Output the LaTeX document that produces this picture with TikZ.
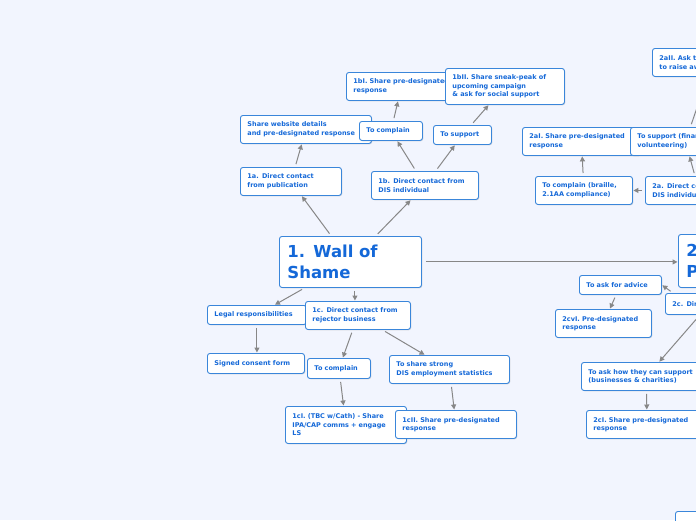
\documentclass[tikz,border=0pt]{standalone}
\usepackage{fontspec}
\setmainfont{DejaVu Sans}
\usetikzlibrary{shadows,arrows.meta}
\definecolor{bg}{HTML}{F2F5FE}
\definecolor{bd}{HTML}{3A86DA}
\definecolor{tx}{HTML}{1468D8}
\definecolor{ln}{HTML}{878787}
\tikzset{
 box/.style={draw=bd,line width=0.9pt,fill=white,rounded corners=2.5pt,text=tx,align=left,
   font=\bfseries\fontsize{6.5}{8.5}\selectfont,inner xsep=7pt,inner ysep=2pt,anchor=north west,
   drop shadow={shadow xshift=0.8pt,shadow yshift=-0.8pt,opacity=0.25}},
 big/.style={font=\bfseries\fontsize{16.5}{20.5}\selectfont},
 conn/.style={draw=ln,line width=1pt,-{Triangle[length=5pt,width=5pt]},shorten <=3pt,shorten >=0.5pt}
}
\newcommand\bx[7][]{\pgfmathsetmacro\tw{#5-14}\node[box,#1,minimum width=#5pt,text width=\tw pt,minimum height=#6pt] (#2) at (#3,#4) {#7};}
\begin{document}
\begin{tikzpicture}[x=1pt,y=-1pt]
\useasboundingbox (0,0) rectangle (696,520);
\clip (0,0) rectangle (696,520);
\fill[bg] (0,0) rectangle (696,520);
% nodes
\bx{a1}{240}{167}{101}{28}{1a. Direct contact\\from publication}
\bx{web}{240}{115}{131}{28}{Share website details\\and pre-designated response}
\bx{b1}{371}{171}{107}{28}{1b. Direct contact from\\DIS individual}
\bx{bI}{346}{72}{110}{28}{1bI. Share pre-designated\\response}
\bx{bII}{445}{68}{119}{36}{1bII. Share sneak-peak of\\upcoming campaign\\\& ask for social support}
\bx{bcomp}{359}{121}{63}{19}{To complain}
\bx{bsup}{433}{125}{58}{19}{To support}
\bx[big,inner xsep=8pt]{wall}{279}{236}{140}{51}{1. Wall of\\Shame}
\bx[big,inner xsep=8pt]{two}{678}{234}{140}{53}{2. Wall of\\Praise}
\bx{legal}{207}{305}{99}{19}{Legal responsibilities}
\bx{c1}{305}{301}{105}{28}{1c. Direct contact from\\rejector business}
\bx{consent}{207}{353}{97}{20}{Signed consent form}
\bx{ccomp}{307}{358}{63}{20}{To complain}
\bx{cshare}{389}{355}{120}{28}{To share strong\\DIS employment statistics}
\bx{cI}{285}{406}{121}{37}{1cI. (TBC w/Cath) - Share\\IPA/CAP comms + engage\\LS}
\bx{cII}{395}{410}{121}{28}{1cII. Share pre-designated\\response}
\bx{aII}{652}{48}{120}{28}{2aII. Ask them\\to raise awareness}
\bx{aI}{522}{127}{118}{28}{2aI. Share pre-designated\\response}
\bx{asup}{630}{127}{110}{28}{To support (financially,\\volunteering)}
\bx{abr}{535}{176}{97}{28}{To complain (braille,\\2.1AA compliance)}
\bx{a2}{645}{176}{107}{28}{2a. Direct contact from\\DIS individual}
\bx{c2}{665}{293}{170}{21}{2c. Direct contact from business}
\bx{advice}{579}{275}{82}{19}{To ask for advice}
\bx{cvI}{555}{309}{96}{28}{2cvI. Pre-designated\\response}
\bx{how}{581}{362}{130}{28}{To ask how they can support\\(businesses \& charities)}
\bx{cI2}{586}{410}{121}{28}{2cI. Share pre-designated\\response}
\bx{rea}{675}{511}{100}{28}{Reach out\\}
% connectors
\path[conn] (wall) -- (a1);
\path[conn] (wall) -- (b1);
\path[conn] (a1) -- (web);
\path[conn] (b1) -- (bcomp);
\path[conn] (b1) -- (bsup);
\path[conn] (bcomp) -- (bI);
\path[conn] (bsup) -- (bII);
\path[conn,shorten <=0pt] ([xshift=4pt]wall.east) -- (two.west|-wall.east);
\path[conn] (wall) -- (legal);
\path[conn] ([xshift=-3pt]wall.south-|c1.north) -- ([xshift=-3pt]c1.north);
\path[conn] (legal.south) -- (legal.south|-consent.north);
\path[conn] (c1) -- (ccomp);
\path[conn] (c1) -- (cshare);
\path[conn] (ccomp) -- (cI);
\path[conn] (cshare) -- (cII);
\path[conn] (abr) -- (aI);
\path[conn] (a2) -- (abr);
\path[conn] (a2) -- (asup);
\path[conn] (asup) -- (aII);
\path[conn] ([xshift=8pt]c2.north west) -- (advice.east);
\path[conn] (advice) -- (cvI);
\path[conn] ([xshift=35pt]c2.south west) -- (how);
\path[conn] (how) -- (cI2);
\end{tikzpicture}
\end{document}
